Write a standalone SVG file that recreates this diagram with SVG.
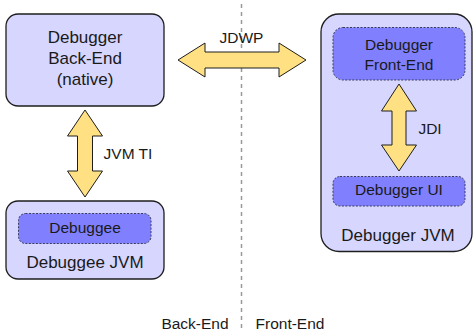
<svg xmlns="http://www.w3.org/2000/svg" width="473" height="331" viewBox="0 0 473 331">
<style>
text{font-family:"Liberation Sans",Arial,sans-serif;fill:#1a1a1a;text-anchor:middle}
.big{font-size:17px}
.sm{font-size:15.5px}
.outer{fill:#d6d6ff;stroke:#1e1e1e;stroke-width:1.3}
.inner{fill:#8080ff;stroke:#3a3a5a;stroke-width:1;stroke-dasharray:2,1.5}
.arr{fill:#ffe082;stroke:#1e1e1e;stroke-width:1}
.sep{stroke:#999;stroke-width:1.5;stroke-dasharray:4,4;fill:none}
</style>
<line class="sep" x1="241.5" y1="4" x2="241.5" y2="331"/>
<g id="backend">
<rect class="outer" x="6" y="14" width="158" height="92" rx="12"/>
<text class="big" x="85" y="43">Debugger</text>
<text class="big" x="85" y="64">Back-End</text>
<text class="big" x="85" y="85">(native)</text>
</g>
<g id="debuggee-jvm">
<rect class="outer" x="6" y="201" width="158" height="78" rx="12"/>
<text class="big" x="85" y="268">Debuggee JVM</text>
</g>
<g id="debuggee">
<rect class="inner" x="18.5" y="213.5" width="132.5" height="30" rx="7"/>
<text class="sm" x="85" y="233">Debuggee</text>
</g>
<g id="debugger-jvm">
<rect class="outer" x="321" y="14" width="151" height="237.5" rx="18"/>
<text class="big" x="398" y="241">Debugger JVM</text>
</g>
<g id="frontend">
<rect class="inner" x="333" y="27.5" width="132" height="52.5" rx="10"/>
<text class="sm" x="399" y="50">Debugger</text>
<text class="sm" x="399" y="70">Front-End</text>
</g>
<g id="debugger-ui">
<rect class="inner" x="333" y="176.5" width="132" height="29.5" rx="7"/>
<text class="sm" x="399" y="195">Debugger UI</text>
</g>
<g id="connectors">
<polygon class="arr" points="178,60 205,43 205,52 279,52 279,43 306,60 279,77 279,68 205,68 205,77"/>
<text class="sm" x="241.5" y="43">JDWP</text>
<polygon class="arr" points="85,110 102.5,136 92.5,136 92.5,171 102.5,171 85,197 67.5,171 77.5,171 77.5,136 67.5,136"/>
<text class="sm" x="128" y="159">JVM TI</text>
<polygon class="arr" points="399,84 416.5,111 406,111 406,145 416.5,145 399,171 381.5,145 392,145 392,111 381.5,111"/>
<text class="sm" x="430" y="134">JDI</text>
</g>
<text class="sm" x="195" y="329">Back-End</text>
<text class="sm" x="290" y="329">Front-End</text>
</svg>
